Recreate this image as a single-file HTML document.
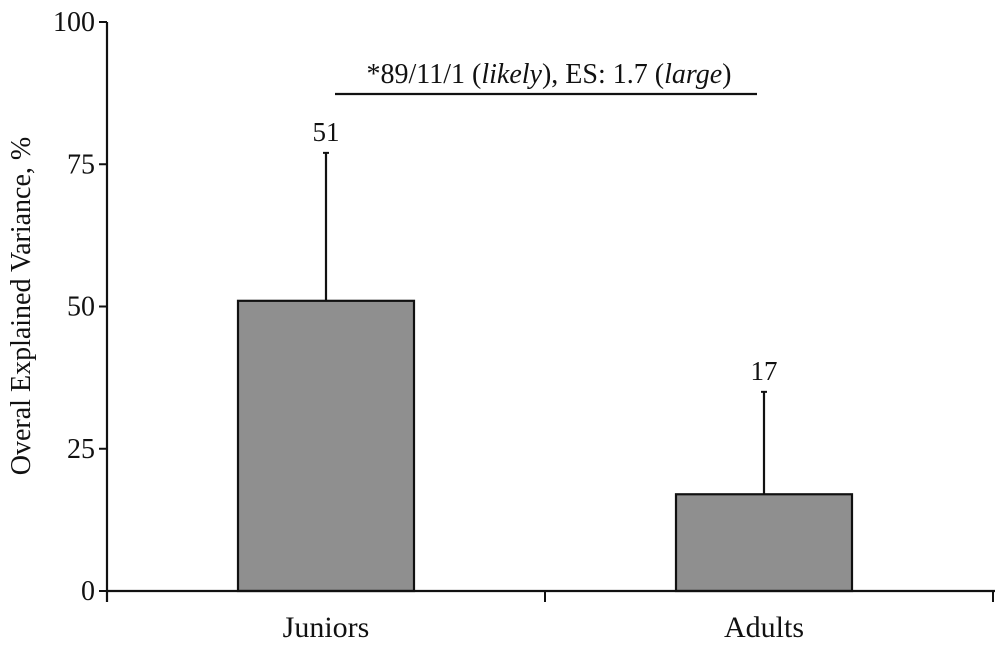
<!DOCTYPE html>
<html><head><meta charset="utf-8"><style>
body{margin:0;background:#fff;}
svg text{font-family:"Liberation Serif","DejaVu Serif",serif;fill:#111;}
</style></head><body>
<svg id="chart" width="1000" height="645" xmlns="http://www.w3.org/2000/svg"></svg>
<script>
const categories = ["Juniors", "Adults"];
const means = [51, 17];
const sdUpper = [77, 35];
const valueLabels = ["51", "17"];
const yTicks = [0, 25, 50, 75, 100];

const NS = "http://www.w3.org/2000/svg";
const svg = document.getElementById("chart");
const x0 = 107, x1 = 995, yBase = 591, yTop = 22;
const yScale = v => yBase - (v / 100) * (yBase - yTop);
const band = 438;
const xCenter = i => x0 + band * (i + 0.5);
const barW = 176;

function mk(tag, attrs, text) {
  const e = document.createElementNS(NS, tag);
  for (const k in attrs) e.setAttribute(k, attrs[k]);
  if (text !== undefined) e.textContent = text;
  svg.appendChild(e);
  return e;
}

categories.forEach((c, i) => {
  const cx = xCenter(i);
  const eb = mk("line", {x1: cx, x2: cx, y1: yScale(sdUpper[i]), y2: yScale(means[i]), stroke: "#111", "stroke-width": 2.2});
  
  
  const cap = mk("line", {x1: cx - 3, x2: cx + 3, y1: yScale(sdUpper[i]), y2: yScale(sdUpper[i]), stroke: "#111", "stroke-width": 2});
  
  
  const r = mk("rect", {x: cx - barW / 2, y: yScale(means[i]), width: barW, height: yBase - yScale(means[i]), fill: "#8f8f8f", stroke: "#111", "stroke-width": 2.2});
  
  
  const vl = mk("text", {x: cx, y: yScale(sdUpper[i]) - 12, "text-anchor": "middle", "font-size": 27}, valueLabels[i]);
  
  
  const cl = mk("text", {x: cx, y: 637, "text-anchor": "middle", "font-size": 30}, c);
  
  
});

const ya = mk("line", {x1: x0, x2: x0, y1: yTop, y2: 602, stroke: "#111", "stroke-width": 2.2});


const xa = mk("line", {x1: x0, x2: x1, y1: yBase, y2: yBase, stroke: "#111", "stroke-width": 2.2});


[x0 + band, x1 - 2].forEach(x => {
  const t = mk("line", {x1: x, x2: x, y1: yBase, y2: 602, stroke: "#111", "stroke-width": 2});
  
  
});
yTicks.forEach(v => {
  const y = yScale(v);
  const t = mk("line", {x1: x0 - 8, x2: x0, y1: y, y2: y, stroke: "#111", "stroke-width": 2});
  
  
  const l = mk("text", {x: x0 - 12, y: y + 9, "text-anchor": "end", "font-size": 28}, String(v));
  
  
});
const yt = mk("text", {x: 0, y: 0, transform: "translate(30,306) rotate(-90)", "text-anchor": "middle", "font-size": 28}, "Overal Explained Variance, %");



const sl = mk("line", {x1: 335, x2: 757, y1: 94, y2: 94, stroke: "#111", "stroke-width": 2.2});


const st = mk("text", {x: 549, y: 83, "text-anchor": "middle", "font-size": 28});


st.innerHTML = '*89/11/1 (<tspan font-style="italic">likely</tspan>), ES: 1.7 (<tspan font-style="italic">large</tspan>)';
</script>
</body></html>
